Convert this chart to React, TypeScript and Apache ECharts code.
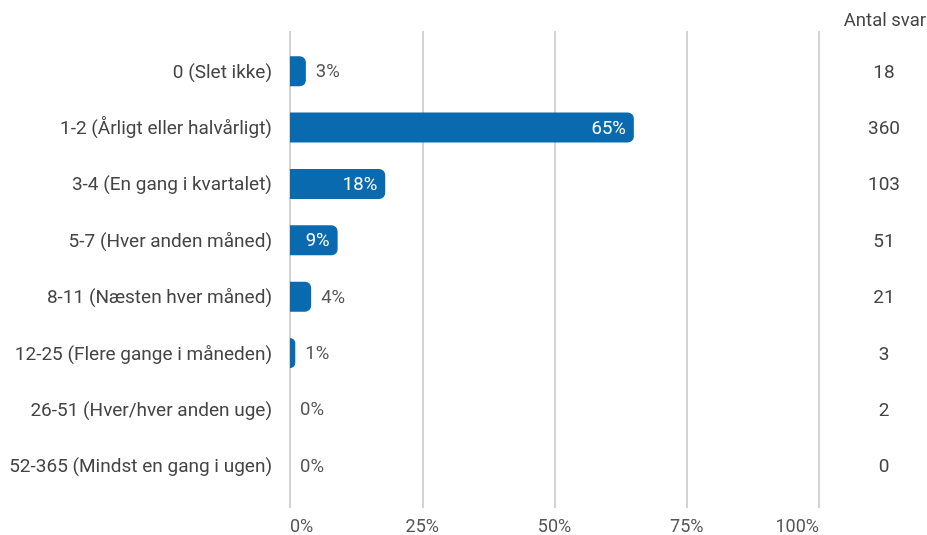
import React, { useEffect, useRef } from "react";
import * as echarts from "echarts";

const categories = [
  "0 (Slet ikke)",
  "1-2 (Årligt eller halvårligt)",
  "3-4 (En gang i kvartalet)",
  "5-7 (Hver anden måned)",
  "8-11 (Næsten hver måned)",
  "12-25 (Flere gange i måneden)",
  "26-51 (Hver/hver anden uge)",
  "52-365 (Mindst en gang i ugen)",
];
const percents = [3, 65, 18, 9, 4, 1, 0, 0];
const counts = [18, 360, 103, 51, 21, 3, 2, 0];
const percentTicks = [0, 25, 50, 75, 100];
const countHeader = "Antal svar";

export default function App() {
  const ref = useRef<HTMLDivElement>(null);
  useEffect(() => {
    if (!ref.current) return;
    const chart = echarts.init(ref.current, null, { renderer: "svg" });
    const font = "Roboto, 'Noto Sans', sans-serif";
    const blue = "#0a6ab0";
    const fs = 19;
    chart.setOption({
      animation: false,
      textStyle: { fontFamily: font },
      grid: [
        { left: 290, width: 529, top: 43, height: 451 },
        { left: 290, width: 529, top: 31, height: 477 },
      ],
      xAxis: [
        {
          gridIndex: 0,
          type: "value",
          min: 0,
          max: 100,
          interval: 25,
          show: false,
        },
        {
          gridIndex: 1,
          type: "value",
          min: 0,
          max: 100,
          interval: 25,
          axisLine: { show: false },
          axisTick: { show: false },
          splitLine: { show: true, lineStyle: { color: "#c4c4c4", width: 1.5 } },
          axisLabel: {
            margin: 8,
            fontSize: 18,
            color: "#555",
            fontFamily: font,
            alignMinLabel: "left",
            alignMaxLabel: "right",
            formatter: (v: number) => (percentTicks.includes(v) ? v + "%" : ""),
          },
        },
      ],
      yAxis: [
        {
          gridIndex: 0,
          type: "category",
          data: categories,
          inverse: true,
          axisLine: { show: false },
          axisTick: { show: false },
          splitLine: { show: false },
          axisLabel: { margin: 18, fontSize: fs, color: "#444", fontFamily: font },
        },
        {
          gridIndex: 0,
          type: "category",
          position: "right",
          data: counts.map(String),
          inverse: true,
          axisLine: { show: false },
          axisTick: { show: false },
          splitLine: { show: false },
          axisLabel: { margin: 65, align: "center", fontSize: fs, color: "#444", fontFamily: font },
        },
        {
          gridIndex: 1,
          type: "value",
          min: 0,
          max: 1,
          show: false,
        },
      ],
      graphic: [
        {
          type: "text",
          x: 926,
          y: 20,
          style: {
            text: countHeader,
            align: "right",
            verticalAlign: "middle",
            fontSize: 18.5,
            fill: "#444",
            fontFamily: font,
          },
        },
      ],
      series: [
        {
          type: "scatter",
          xAxisIndex: 1,
          yAxisIndex: 2,
          data: [],
          silent: true,
        },
        {
          type: "bar",
          xAxisIndex: 0,
          yAxisIndex: 0,
          barWidth: 30,
          data: percents.map((p) => {
            const inside = p >= 8;
            return {
              value: p,
              label: {
                show: true,
                position: inside ? "insideRight" : "right",
                distance: inside ? 8 : 10,
                color: inside ? "#fff" : "#555",
                fontSize: 18.5,
                fontFamily: font,
                formatter: () => p + "%",
              },
            };
          }),
          itemStyle: { color: blue, borderRadius: [0, 6, 6, 0] },
        },
      ],
    });
    return () => chart.dispose();
  }, []);
  return (
    <div
      ref={ref}
      style={{ position: "fixed", left: 0, top: 0, width: 927, height: 535 }}
    />
  );
}
